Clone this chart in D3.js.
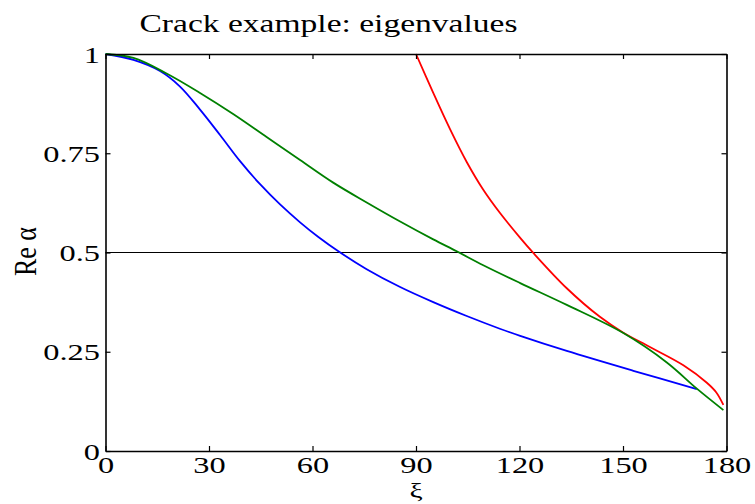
<!DOCTYPE html>
<html>
<head>
<meta charset="utf-8">
<script src="https://cdn.jsdelivr.net/npm/d3@7"></script>
<style>
  html, body { margin: 0; padding: 0; background: #fff; }
  svg { display: block; }
  text { font-family: "Liberation Serif", "Times New Roman", serif; fill: #000; }
</style>
</head>
<body>
<svg id="chart" width="755" height="504"></svg>
<script>
// ---- data ----
const title = "Crack example: eigenvalues";
const xLabel = "ξ";
const yLabel = "Re α";
const xTicks = [0, 30, 60, 90, 120, 150, 180];
const yTicks = [0, 0.25, 0.5, 0.75, 1];
const yTickLabels = ["0", "0.25", "0.5", "0.75", "1"];
const refLevel = 0.5;

const blueX = [0, 8.1, 15.8, 21.6, 27.4, 33.2, 39.0, 44.8, 50.6, 56.4, 61.7, 67.5, 75.7, 85.4, 95.0, 104.7, 114.3, 120.2, 133.7, 153.0, 171.4];
const blueY = [1, 0.985, 0.957, 0.918, 0.860, 0.796, 0.730, 0.672, 0.621, 0.576, 0.539, 0.503, 0.458, 0.413, 0.375, 0.340, 0.308, 0.290, 0.252, 0.202, 0.156];

const greenX = [0, 8.1, 17.7, 27.4, 37.0, 46.7, 56.4, 66.0, 75.7, 85.4, 95.0, 101.8, 109.5, 120.2, 133.7, 150.1, 162.7, 171.4, 179.1];
const greenY = [1, 0.990, 0.951, 0.902, 0.849, 0.791, 0.733, 0.676, 0.626, 0.578, 0.533, 0.503, 0.468, 0.423, 0.368, 0.297, 0.223, 0.157, 0.103];

const redX = [90.0, 95.0, 99.9, 104.7, 109.5, 114.3, 120.2, 124.0, 133.7, 143.3, 150.1, 157.8, 167.5, 174.3, 177.0, 179.1];
const redY = [1.0, 0.902, 0.810, 0.728, 0.658, 0.600, 0.537, 0.499, 0.410, 0.338, 0.298, 0.262, 0.216, 0.172, 0.148, 0.116];

// ---- layout ----
const L = 105.5, R = 726.5, T = 54, B = 451;
const SX = 1.35; // horizontal stretch of glyphs in the reference

const svg = d3.select("#chart");
const x = d3.scaleLinear().domain([0, 180]).range([L, R]);
const y = d3.scaleLinear().domain([0, 1]).range([B, T]);

// reference line
svg.append("line")
  .attr("x1", x(0)).attr("x2", x(180))
  .attr("y1", y(refLevel)).attr("y2", y(refLevel))
  .attr("stroke", "#000").attr("stroke-width", 1.2);

// curves
const line = d3.line().x(d => x(d[0])).y(d => y(d[1])).curve(d3.curveCatmullRom.alpha(0.5));
const series = [
  {xs: blueX, ys: blueY, color: "#0000ff"},
  {xs: redX, ys: redY, color: "#ff0000"},
  {xs: greenX, ys: greenY, color: "#008000"}
];
series.forEach(s => {
  const pts = s.xs.map((v, i) => [v, s.ys[i]]);
  svg.append("path")
    .attr("d", line(pts))
    .attr("fill", "none")
    .attr("stroke", s.color)
    .attr("stroke-width", 1.8)
    .attr("stroke-linejoin", "round");
});

// axes
const fmtY = d => yTickLabels[yTicks.indexOf(d)];
const gB = svg.append("g").attr("transform", `translate(0,${B})`)
  .call(d3.axisBottom(x).tickValues(xTicks).tickSizeInner(-5).tickSizeOuter(0).tickFormat(d => d));
const gT = svg.append("g").attr("transform", `translate(0,${T})`)
  .call(d3.axisTop(x).tickValues(xTicks).tickSizeInner(-5).tickSizeOuter(0).tickFormat(""));
const gL = svg.append("g").attr("transform", `translate(${L},0)`)
  .call(d3.axisLeft(y).tickValues(yTicks).tickSizeInner(-5).tickSizeOuter(0).tickFormat(fmtY));
const gR = svg.append("g").attr("transform", `translate(${R},0)`)
  .call(d3.axisRight(y).tickValues(yTicks).tickSizeInner(-5).tickSizeOuter(0).tickFormat(""));

[gB, gT, gL, gR].forEach(g => {
  g.select(".domain").attr("stroke", "#000").attr("stroke-width", 1.6);
  g.selectAll(".tick line").attr("stroke", "#000").attr("stroke-width", 1.2);
});
gB.selectAll(".tick text")
  .attr("y", 0).attr("dy", 0)
  .attr("transform", `translate(0,22) scale(${SX},1)`)
  .attr("font-family", "Liberation Serif").attr("font-size", 24).attr("fill", "#000");
gL.selectAll(".tick text")
  .attr("x", 0).attr("dy", 0)
  .attr("transform", `translate(-5.5,8) scale(${SX},1)`)
  .attr("font-family", "Liberation Serif").attr("font-size", 24).attr("fill", "#000");

// title
svg.append("text")
  .attr("transform", `translate(328.5,32) scale(1.29,1)`)
  .attr("text-anchor", "middle")
  .attr("font-size", 26)
  .text(title);

// x label
svg.append("text")
  .attr("transform", `translate(${x(90)},498) scale(${SX},1)`)
  .attr("text-anchor", "middle")
  .attr("font-size", 22)
  .text(xLabel);

// y label
svg.append("text")
  .attr("transform", `translate(36,251.5) scale(1.25,1) rotate(-90)`)
  .attr("text-anchor", "middle")
  .attr("font-size", 26)
  .text(yLabel);
</script>
</body>
</html>
